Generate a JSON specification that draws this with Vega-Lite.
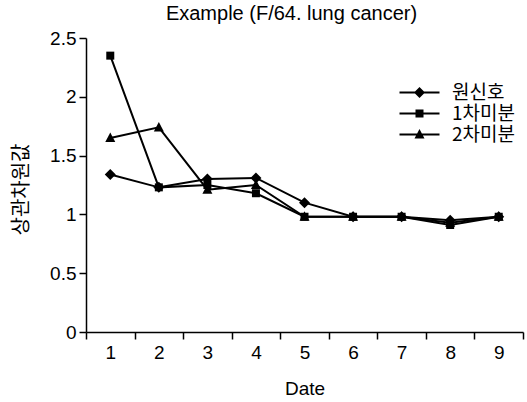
{
  "$schema": "https://vega.github.io/schema/vega-lite/v6.json",
  "width": 437,
  "height": 294,
  "autosize": {"type": "none"},
  "padding": {"left": 86, "top": 38, "right": 4, "bottom": 70},
  "background": "white",
  "config": {"view": {"stroke": null}},
  "title": {"text": "Example (F/64. lung cancer)", "font": "Liberation Sans", "fontSize": 20, "fontWeight": "normal", "color": "black", "offset": 5, "dx": -13},
  "data": {"values": [
    {"date": 1, "series": "원신호", "value": 1.34},
    {"date": 2, "series": "원신호", "value": 1.23},
    {"date": 3, "series": "원신호", "value": 1.30},
    {"date": 4, "series": "원신호", "value": 1.31},
    {"date": 5, "series": "원신호", "value": 1.10},
    {"date": 6, "series": "원신호", "value": 0.98},
    {"date": 7, "series": "원신호", "value": 0.98},
    {"date": 8, "series": "원신호", "value": 0.95},
    {"date": 9, "series": "원신호", "value": 0.98},
    {"date": 1, "series": "1차미분", "value": 2.35},
    {"date": 2, "series": "1차미분", "value": 1.23},
    {"date": 3, "series": "1차미분", "value": 1.25},
    {"date": 4, "series": "1차미분", "value": 1.18},
    {"date": 5, "series": "1차미분", "value": 0.98},
    {"date": 6, "series": "1차미분", "value": 0.98},
    {"date": 7, "series": "1차미분", "value": 0.98},
    {"date": 8, "series": "1차미분", "value": 0.91},
    {"date": 9, "series": "1차미분", "value": 0.98},
    {"date": 1, "series": "2차미분", "value": 1.65},
    {"date": 2, "series": "2차미분", "value": 1.74},
    {"date": 3, "series": "2차미분", "value": 1.21},
    {"date": 4, "series": "2차미분", "value": 1.25},
    {"date": 5, "series": "2차미분", "value": 0.98},
    {"date": 6, "series": "2차미분", "value": 0.98},
    {"date": 7, "series": "2차미분", "value": 0.98},
    {"date": 8, "series": "2차미분", "value": 0.93},
    {"date": 9, "series": "2차미분", "value": 0.98}
  ]},
  "encoding": {
    "x": {
      "field": "date", "type": "ordinal",
      "scale": {"type": "band", "paddingInner": 0, "paddingOuter": 0},
      "axis": {
        "title": "Date", "labelAngle": 0, "tickBand": "extent", "grid": false,
        "domainColor": "black", "domainWidth": 1.5, "tickColor": "black", "tickWidth": 1.5, "tickSize": 7,
        "labelFont": "Liberation Sans", "labelFontSize": 19, "labelColor": "black", "labelPadding": 4,
        "titleFont": "Liberation Sans", "titleFontSize": 19, "titleFontWeight": "normal", "titleColor": "black", "titlePadding": 17
      }
    },
    "y": {
      "field": "value", "type": "quantitative",
      "scale": {"domain": [0, 2.5], "nice": false},
      "axis": {
        "title": "상관차원값", "values": [0, 0.5, 1, 1.5, 2, 2.5], "format": "~g", "grid": false,
        "domainColor": "black", "domainWidth": 1.5, "tickColor": "black", "tickWidth": 1.5, "tickSize": 7,
        "labelFont": "Liberation Sans", "labelFontSize": 19, "labelColor": "black", "labelPadding": 3,
        "titleFont": "Noto Sans CJK KR", "titleFontSize": 20, "titleFontWeight": "normal", "titleColor": "black",
        "titleX": -65, "titleY": 151, "titleAngle": 270, "titleBaseline": "middle", "titleAlign": "center"
      }
    }
  },
  "layer": [
    {
      "mark": {"type": "line", "color": "black", "strokeWidth": 2},
      "encoding": {"detail": {"field": "series", "type": "nominal"}}
    },
    {
      "mark": {"type": "point", "filled": true, "color": "black", "opacity": 1, "size": 4},
      "encoding": {
        "shape": {
          "field": "series", "type": "nominal",
          "scale": {
            "domain": ["원신호", "1차미분", "2차미분"],
            "range": ["M-5.5,0L0,-5.5L5.5,0L0,5.5Z", "M-4,-4L4,-4L4,4L-4,4Z", "M0,-5.5L5,4L-5,4Z"]
          },
          "legend": null
        }
      }
    },
    {
      "mark": {"type": "point", "filled": true, "color": "black", "opacity": 0, "size": 4},
      "encoding": {
        "shape": {
          "field": "series", "type": "nominal",
          "scale": {
            "domain": ["원신호", "1차미분", "2차미분"],
            "range": ["M-20,-1L20,-1L20,1L-20,1ZM-5.5,0L0,-5.5L5.5,0L0,5.5Z", "M-20,-1L20,-1L20,1L-20,1ZM-4,-4L4,-4L4,4L-4,4Z", "M-20,-1L20,-1L20,1L-20,1ZM0,-5.5L5,4L-5,4Z"]
          },
          "legend": {
            "orient": "none", "legendX": 324, "legendY": 45, "title": null,
            "labelFont": "Noto Sans CJK KR", "labelFontSize": 19, "labelColor": "black",
            "symbolSize": 4, "labelOffset": 23, "rowPadding": 1,
            "symbolOpacity": 1, "symbolFillColor": "black", "symbolStrokeColor": "black", "symbolStrokeWidth": 0.5
          }
        }
      }
    }
  ],
  "resolve": {"scale": {"shape": "independent"}, "legend": {"shape": "independent"}}
}
